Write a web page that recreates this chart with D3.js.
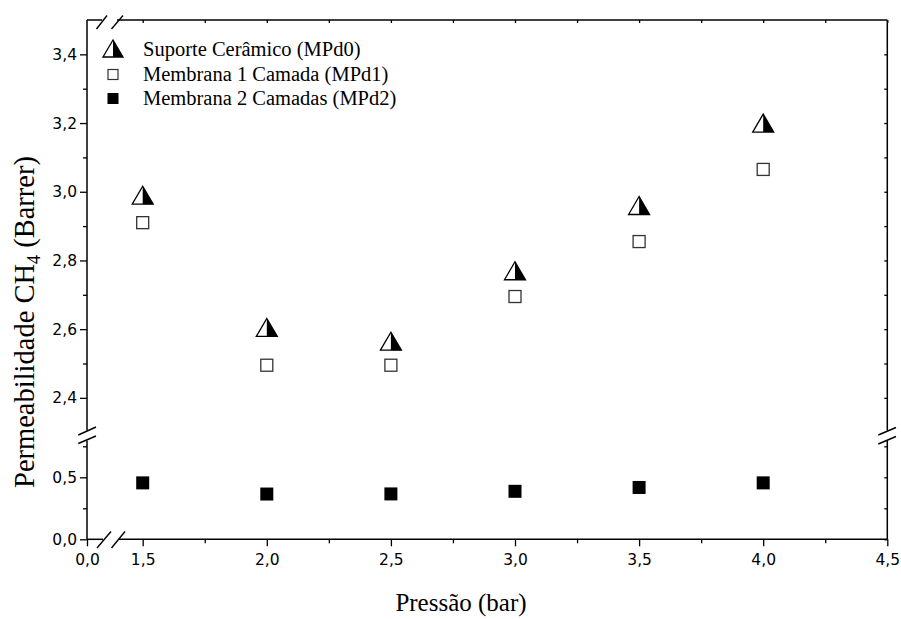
<!DOCTYPE html>
<html><head><meta charset="utf-8">
<script src="https://cdn.jsdelivr.net/npm/d3@7/dist/d3.min.js"></script>
<style>
body{margin:0;background:#fff;}
svg{display:block;}
</style></head>
<body>
<svg id="chart" width="901" height="619"></svg>
<script>
// ---- data ----
const pressures = [1.5, 2.0, 2.5, 3.0, 3.5, 4.0];
const suporteMPd0 = [2.99, 2.605, 2.565, 2.77, 2.96, 3.20];
const membrana1MPd1 = [2.91, 2.495, 2.495, 2.695, 2.855, 3.065];
const membrana2MPd2 = [0.455, 0.365, 0.366, 0.387, 0.418, 0.455];
const seriesNames = ["Suporte Cerâmico (MPd0)", "Membrana 1 Camada (MPd1)", "Membrana 2 Camadas (MPd2)"];
const xMajorTicks = [1.5, 2.0, 2.5, 3.0, 3.5, 4.0, 4.5];
const xMinorTicks = [1.75, 2.25, 2.75, 3.25, 3.75, 4.25];
const xLeftTicks = [0.0];
const yUpperMajor = [2.4, 2.6, 2.8, 3.0, 3.2, 3.4];
const yUpperMinor = [2.5, 2.7, 2.9, 3.1, 3.3];
const yLowerMajor = [0.0, 0.5];
const yLowerMinor = [0.25, 0.75];
const xTitle = "Pressão (bar)";

// ---- layout ----
const L = 87, R = 887.3, T = 20, B = 539.3;
const svg = d3.select("#chart");
const fmt = d => d3.format(".1f")(d).replace(".", ",");

const xMain = d3.scaleLinear().domain([1.5, 4.5]).range([142.7, R]);
const xLeft = d3.scaleLinear().domain([0, 0.1]).range([L, 104]);
const yUp = d3.scaleLinear().domain([2.3, 3.5]).range([432.2, T]);
const yLow = d3.scaleLinear().domain([0, 0.75]).range([B, 446.3]);

const tickFont = "'DejaVu Sans', Verdana, sans-serif";
const serif = "'Liberation Serif', 'Times New Roman', serif";
const lw = 1.5;

function styleAxis(g) {
  g.select(".domain").remove();
  g.selectAll("line").attr("stroke", "#000").attr("stroke-width", 1.3);
  g.selectAll("text").attr("font-family", tickFont).attr("font-size", 15.5).attr("fill", "#000");
}

// bottom axis (main)
svg.append("g").attr("transform", `translate(0,${B})`)
  .call(d3.axisBottom(xMain).tickValues(xMajorTicks).tickFormat(fmt).tickSize(7).tickPadding(8))
  .call(styleAxis);
svg.append("g").attr("transform", `translate(0,${B})`)
  .call(d3.axisBottom(xMain).tickValues(xMinorTicks).tickFormat("").tickSize(4))
  .call(styleAxis);
// bottom axis (left segment)
svg.append("g").attr("transform", `translate(0,${B})`)
  .call(d3.axisBottom(xLeft).tickValues(xLeftTicks).tickFormat(fmt).tickSize(7).tickPadding(8))
  .call(styleAxis);
// top axis ticks (inward)
svg.append("g").attr("transform", `translate(0,${T})`)
  .call(d3.axisBottom(xMain).tickValues(xMajorTicks.concat(xMinorTicks)).tickFormat("").tickSize(3))
  .call(styleAxis);

// left axis
svg.append("g").attr("transform", `translate(${L},0)`)
  .call(d3.axisLeft(yUp).tickValues(yUpperMajor).tickFormat(fmt).tickSize(7).tickPadding(3))
  .call(styleAxis);
svg.append("g").attr("transform", `translate(${L},0)`)
  .call(d3.axisLeft(yUp).tickValues(yUpperMinor).tickFormat("").tickSize(4))
  .call(styleAxis);
svg.append("g").attr("transform", `translate(${L},0)`)
  .call(d3.axisLeft(yLow).tickValues(yLowerMajor).tickFormat(fmt).tickSize(7).tickPadding(3))
  .call(styleAxis);
svg.append("g").attr("transform", `translate(${L},0)`)
  .call(d3.axisLeft(yLow).tickValues(yLowerMinor).tickFormat("").tickSize(4))
  .call(styleAxis);
// right axis ticks (inward)
svg.append("g").attr("transform", `translate(${R},0)`)
  .call(d3.axisLeft(yUp).tickValues(yUpperMajor.concat(yUpperMinor)).tickFormat("").tickSize(3))
  .call(styleAxis);
svg.append("g").attr("transform", `translate(${R},0)`)
  .call(d3.axisLeft(yLow).tickValues(yLowerMajor.concat(yLowerMinor)).tickFormat("").tickSize(3))
  .call(styleAxis);

// frame lines with breaks
const frame = svg.append("g").attr("stroke", "#000").attr("stroke-width", lw).attr("fill", "none");
const seg = (x1, y1, x2, y2) => frame.append("line").attr("x1", x1).attr("y1", y1).attr("x2", x2).attr("y2", y2);
// bottom
seg(L, B, 103, B); seg(119, B, R, B);
// top
seg(L, T, 102, T); seg(117, T, R, T);
// left
seg(L, T, L, 430.5); seg(L, 440.5, L, B);
// right
seg(R, T, R, 430.5); seg(R, 440.5, R, B);
// break slashes
const slash = (x1, y1, x2, y2) => frame.append("line").attr("x1", x1).attr("y1", y1).attr("x2", x2).attr("y2", y2).attr("stroke-width", 1.4);
slash(97, 548, 111, 531.5); slash(111.5, 548, 125, 531.5);
slash(96.5, 29, 107, 15.5); slash(111.5, 29, 123, 15.5);
slash(78.3, 435, 96, 427); slash(78.3, 443.5, 96, 436);
slash(878.3, 435, 896, 427.5); slash(878.3, 444, 896, 436.5);

// ---- markers ----
function triangle(g, cx, cy, w, h) {
  const outline = `M${cx - w/2},${cy + h/2}L${cx},${cy - h/2}L${cx + w/2},${cy + h/2}Z`;
  const right = `M${cx},${cy - h/2}L${cx + w/2},${cy + h/2}L${cx},${cy + h/2}Z`;
  g.append("path").attr("d", outline).attr("fill", "#fff").attr("stroke", "none");
  g.append("path").attr("d", right).attr("fill", "#000");
  g.append("path").attr("d", outline).attr("fill", "none").attr("stroke", "#000").attr("stroke-width", 1.3).attr("stroke-linejoin", "miter");
}
const marks = svg.append("g");
pressures.forEach((p, i) => {
  triangle(marks, xMain(p), yUp(suporteMPd0[i]), 21, 18);
});
const sq = 12;
marks.selectAll("rect.open").data(pressures).join("rect").attr("class", "open")
  .attr("x", d => xMain(d) - sq/2).attr("y", (d, i) => yUp(membrana1MPd1[i]) - sq/2)
  .attr("width", sq).attr("height", sq).attr("fill", "#fff").attr("stroke", "#333").attr("stroke-width", 1.3);
marks.selectAll("rect.filled").data(pressures).join("rect").attr("class", "filled")
  .attr("x", d => xMain(d) - 6.5).attr("y", (d, i) => yLow(membrana2MPd2[i]) - 6.5)
  .attr("width", 13).attr("height", 13).attr("fill", "#000");

// ---- legend ----
const leg = svg.append("g");
const legBase = [56, 80.5, 104.5];
const legTextX = 143;
const legSymX = 113;
leg.selectAll("text").data(seriesNames).join("text")
  .attr("x", legTextX).attr("y", (d, i) => legBase[i])
  .attr("font-family", serif).attr("font-size", 20.5).attr("fill", "#000").text(d => d);
triangle(leg, legSymX, legBase[0] - 7.5, 20, 17);
leg.append("rect").attr("x", legSymX - 5).attr("y", legBase[1] - 11).attr("width", 10).attr("height", 10)
  .attr("fill", "#fff").attr("stroke", "#333").attr("stroke-width", 1.2);
leg.append("rect").attr("x", legSymX - 5.5).attr("y", legBase[2] - 11.5).attr("width", 11).attr("height", 11)
  .attr("fill", "#000");

// ---- axis titles ----
svg.append("text").attr("x", 461).attr("y", 611).attr("text-anchor", "middle")
  .attr("font-family", serif).attr("font-size", 25).attr("fill", "#000").text(xTitle);
const yt = svg.append("text").attr("transform", "translate(34,322) rotate(-90)").attr("text-anchor", "middle")
  .attr("font-family", serif).attr("font-size", 28.5).attr("fill", "#000");
yt.append("tspan").text("Permeabilidade CH");
yt.append("tspan").attr("font-size", 18).attr("dy", 6).text("4");
yt.append("tspan").attr("dy", -6).text(" (Barrer)");
</script>
</body></html>
